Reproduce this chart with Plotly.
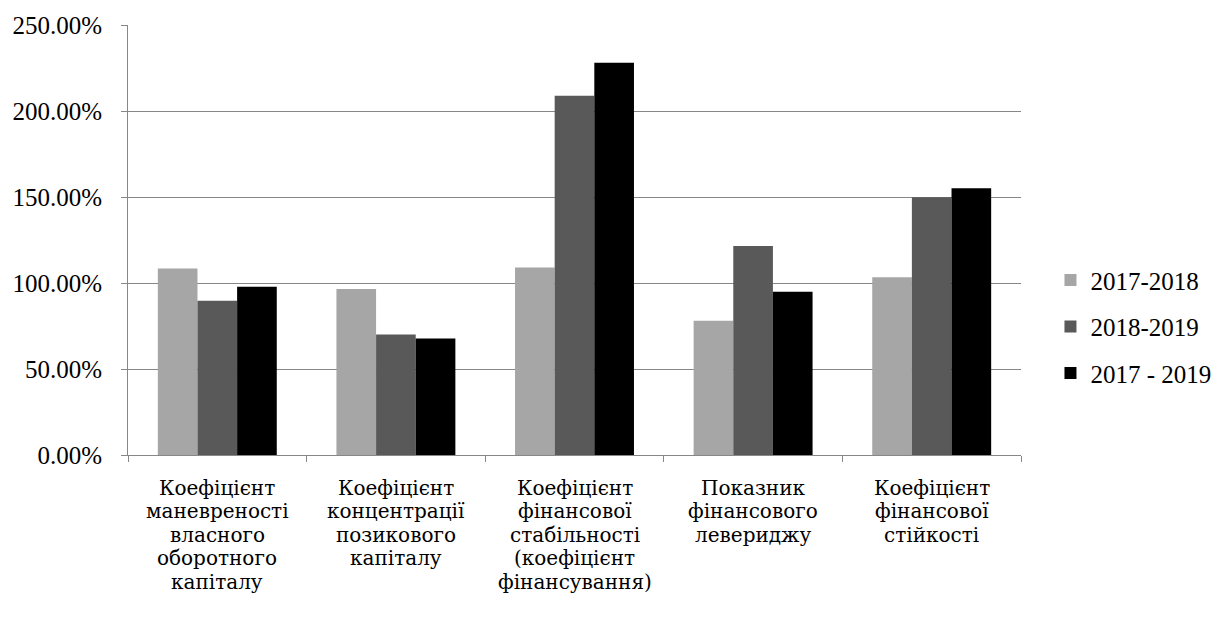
import plotly.graph_objects as go

# Показники фінансової стійкості, темпи зміни (частки, 1.0 = 100%)
categories = [
    "Коефіцієнт<br>маневреності<br>власного<br>оборотного<br>капіталу",
    "Коефіцієнт<br>концентрації<br>позикового<br>капіталу",
    "Коефіцієнт<br>фінансової<br>стабільності<br>(коефіцієнт<br>фінансування)",
    "Показник<br>фінансового<br>левериджу",
    "Коефіцієнт<br>фінансової<br>стійкості",
]
series_names = ["2017-2018", "2018-2019", "2017 - 2019"]
v_2017_2018 = [1.084, 0.965, 1.090, 0.780, 1.034]
v_2018_2019 = [0.897, 0.701, 2.089, 1.215, 1.499]
v_2017_2019 = [0.978, 0.678, 2.281, 0.949, 1.551]
series_values = [v_2017_2018, v_2018_2019, v_2017_2019]
series_colors = ["#A6A6A6", "#595959", "#000000"]

FONT = "Liberation Serif"
LABEL_FONT = "DejaVu Serif"
GRID = "#878787"
FONT_SIZE = 25
LABEL_SIZE = 20
LINE_STEP = 23.4

positions = list(range(1, len(categories) + 1))

fig = go.Figure()
for name, vals, col in zip(series_names, series_values, series_colors):
    fig.add_trace(go.Bar(
        x=positions, y=vals, name=name, legendgroup=name,
        marker=dict(color=col, line=dict(width=0)),
    ))

# Category labels, one annotation per line for tight line spacing
for pos, label in zip(positions, categories):
    for i, line in enumerate(label.split("<br>")):
        fig.add_annotation(
            x=pos, xref="x", y=0, yref="paper",
            text=line, showarrow=False,
            xanchor="center", yanchor="middle",
            yshift=-33 - i * LINE_STEP,
            font=dict(family=LABEL_FONT, size=LABEL_SIZE, color="black"),
        )

fig.update_layout(
    width=1228, height=626,
    margin=dict(l=128, r=207, t=21, b=171, pad=0),
    paper_bgcolor="white", plot_bgcolor="white",
    barmode="group", bargap=0.334, bargroupgap=0,
    font=dict(family=FONT, size=FONT_SIZE, color="black"),
    legend=dict(
        x=1.033, xanchor="left", y=0.298, yanchor="middle",
        font=dict(family=FONT, size=FONT_SIZE, color="black"),
        traceorder="grouped", tracegroupgap=11,
        bgcolor="rgba(0,0,0,0)", borderwidth=0,
    ),
    showlegend=True,
)
fig.update_xaxes(
    range=[0.5, len(categories) + 0.5],
    tickvals=[p + 0.5 for p in [0] + positions],
    showticklabels=False, ticks="outside", ticklen=6, tickcolor=GRID,
    showline=True, linecolor=GRID, linewidth=1,
    showgrid=False, zeroline=False, fixedrange=True,
)
fig.update_yaxes(
    range=[0, 2.5], dtick=0.5, tickformat=".2%",
    ticks="outside", ticklen=6, tickcolor=GRID,
    showline=True, linecolor=GRID, linewidth=1,
    showgrid=True, gridcolor=GRID, gridwidth=1,
    zeroline=False, ticklabelstandoff=14,
    tickfont=dict(family=FONT, size=FONT_SIZE, color="black"),
)

fig.write_html("out.html")
